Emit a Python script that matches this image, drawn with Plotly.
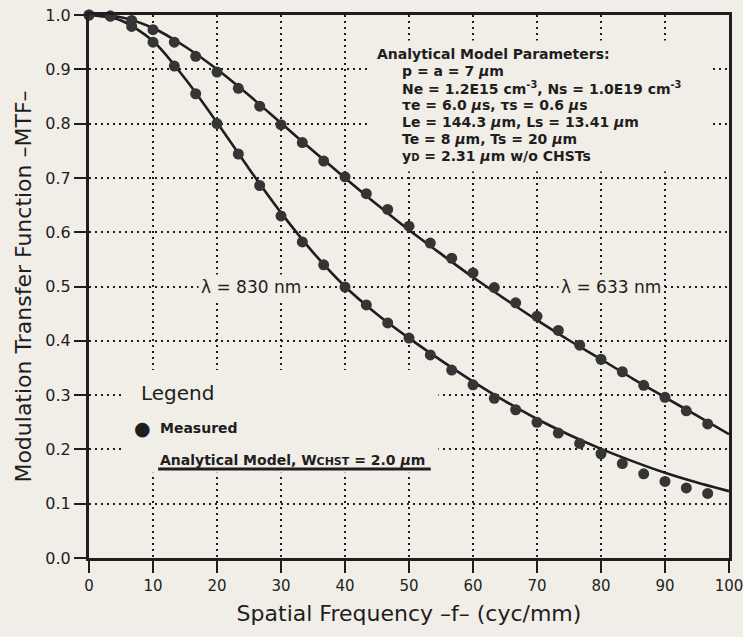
import plotly.graph_objects as go

# ---------------- data ----------------
freq_measured = [0, 3.33, 6.67, 10, 13.33, 16.67, 20, 23.33, 26.67, 30,
                 33.33, 36.67, 40, 43.33, 46.67, 50, 53.33, 56.67, 60, 63.33,
                 66.67, 70, 73.33, 76.67, 80, 83.33, 86.67, 90, 93.33, 96.67]

mtf_633_measured = [1.0, 0.998, 0.99, 0.973, 0.95, 0.924, 0.895, 0.865, 0.832, 0.798,
                    0.765, 0.731, 0.702, 0.671, 0.642, 0.611, 0.580, 0.552, 0.525, 0.498,
                    0.470, 0.445, 0.419, 0.392, 0.366, 0.343, 0.318, 0.296, 0.271, 0.247]

mtf_830_measured = [1.0, 0.998, 0.979, 0.95, 0.906, 0.855, 0.80, 0.744, 0.686, 0.63,
                    0.582, 0.540, 0.499, 0.466, 0.433, 0.405, 0.374, 0.346, 0.319, 0.294,
                    0.273, 0.250, 0.230, 0.211, 0.192, 0.174, 0.155, 0.141, 0.129, 0.119]

freq_model = [0, 5, 10, 15, 20, 25, 30, 35, 40, 45, 50,
              55, 60, 65, 70, 75, 80, 85, 90, 95, 100]

mtf_633_model = [1.0, 0.996, 0.976, 0.942, 0.900, 0.852, 0.801, 0.750, 0.700, 0.651, 0.604,
                 0.560, 0.517, 0.477, 0.438, 0.401, 0.366, 0.330, 0.296, 0.262, 0.228]

mtf_830_model = [1.0, 0.990, 0.952, 0.883, 0.802, 0.717, 0.636, 0.563, 0.500, 0.449, 0.405,
                 0.364, 0.325, 0.289, 0.256, 0.227, 0.201, 0.178, 0.157, 0.139, 0.123]

x_ticks = [0, 10, 20, 30, 40, 50, 60, 70, 80, 90, 100]
y_ticks = [0.0, 0.1, 0.2, 0.3, 0.4, 0.5, 0.6, 0.7, 0.8, 0.9, 1.0]
y_tick_labels = ["0.0", "0.1", "0.2", "0.3", "0.4", "0.5", "0.6", "0.7", "0.8", "0.9", "1.0"]

# ---------------- style ----------------
BG = "#f1ede7"
INK = "#1e1e1e"
DOT = "#353535"
FONT = "DejaVu Sans"

fig = go.Figure()

for ym in (mtf_633_model, mtf_830_model):
    fig.add_trace(go.Scatter(x=freq_model, y=ym, mode="lines",
                             line=dict(color=INK, width=2.6, shape="spline", smoothing=0.8),
                             showlegend=False, hoverinfo="skip"))

for ym in (mtf_633_measured, mtf_830_measured):
    fig.add_trace(go.Scatter(x=freq_measured, y=ym, mode="markers",
                             marker=dict(color=DOT, size=11, line=dict(width=0)),
                             showlegend=False, cliponaxis=False))

# masks that interrupt the dotted grid behind text blocks
for (x0, x1, y0, y1) in [(43.9, 97.3, 0.712, 0.953), (5.6, 54.6, 0.157, 0.346)]:
    fig.add_shape(type="rect", xref="x", yref="y", x0=x0, x1=x1, y0=y0, y1=y1,
                  fillcolor=BG, line=dict(width=0), layer="between")

ann = []
def text(x, y, s, size=14, xanchor="left", bold=False, bg=None):
    d = dict(x=x, y=y, xref="x", yref="y", text=("<b>%s</b>" % s) if bold else s,
             showarrow=False, xanchor=xanchor, yanchor="middle",
             font=dict(family=FONT, size=size, color=INK))
    if bg:
        d.update(bgcolor=bg, borderpad=2)
    ann.append(d)

mu = "<i>\u03bc</i>"
text(44.7, 0.929, "Analytical Model Parameters:", bold=True)
text(48.6, 0.896, "p = a = 7 %sm" % mu, bold=True)
text(48.6, 0.866, "Ne = 1.2E15 cm<sup>-3</sup>, Ns = 1.0E19 cm<sup>-3</sup>", bold=True)
text(48.6, 0.834, "\u03c4e = 6.0 %ss, \u03c4s = 0.6 %ss" % (mu, mu), bold=True)
text(48.6, 0.803, "Le = 144.3 %sm, Ls = 13.41 %sm" % (mu, mu), bold=True)
text(48.6, 0.772, "Te = 8 %sm, Ts = 20 %sm" % (mu, mu), bold=True)
text(48.6, 0.740, "y<span style='font-size:10px'>D</span> = 2.31 %sm w/o CHSTs" % mu, bold=True)

text(25.3, 0.5, "\u03bb = 830 nm", size=17, xanchor="center", bg=BG)
text(81.6, 0.5, "\u03bb = 633 nm", size=17, xanchor="center", bg=BG)

text(7.8, 0.303, "Legend", size=20)
text(8.3, 0.239, "\u25cf", size=19, xanchor="center")
text(10.8, 0.239, "Measured", bold=True)
text(10.8, 0.181, "Analytical Model, W<span style='font-size:11px'>CHST</span> = 2.0 %sm" % mu, bold=True)

fig.add_shape(type="line", xref="x", yref="y", x0=10.8, x1=53.4, y0=0.164, y1=0.164,
              line=dict(color=INK, width=3), layer="above")

fig.update_layout(
    width=743, height=637,
    margin=dict(l=89, r=14, t=15, b=79),
    paper_bgcolor=BG, plot_bgcolor=BG,
    annotations=ann,
    font=dict(family=FONT, color=INK),
    showlegend=False,
    xaxis=dict(range=[0, 100], tickvals=x_ticks, ticks="outside", ticklen=12, tickwidth=2,
               tickcolor=INK, showline=True, linewidth=3, linecolor=INK, mirror=True,
               showgrid=True, gridcolor=INK, gridwidth=1.6, griddash="2px,4px",
               zeroline=False, tickfont=dict(size=15, color=INK), automargin=False,
               ticklabeloverflow="allow",
               title=dict(text="Spatial Frequency \u2013f\u2013 (cyc/mm)",
                          font=dict(size=22, color=INK), standoff=12)),
    yaxis=dict(range=[0, 1.0], tickvals=y_ticks, ticktext=y_tick_labels, ticks="outside",
               ticklen=12, tickwidth=2, tickcolor=INK, showline=True, linewidth=3,
               linecolor=INK, mirror=True, showgrid=True, gridcolor=INK, gridwidth=1.6,
               griddash="2px,4px", zeroline=False, tickfont=dict(size=16, color=INK),
               automargin=False,
               title=dict(text="Modulation Transfer Function \u2013MTF\u2013",
                          font=dict(size=22, color=INK), standoff=8)),
)

fig.write_html("out.html", post_script="document.body.style.margin='0';",
               config={"displayModeBar": False})
